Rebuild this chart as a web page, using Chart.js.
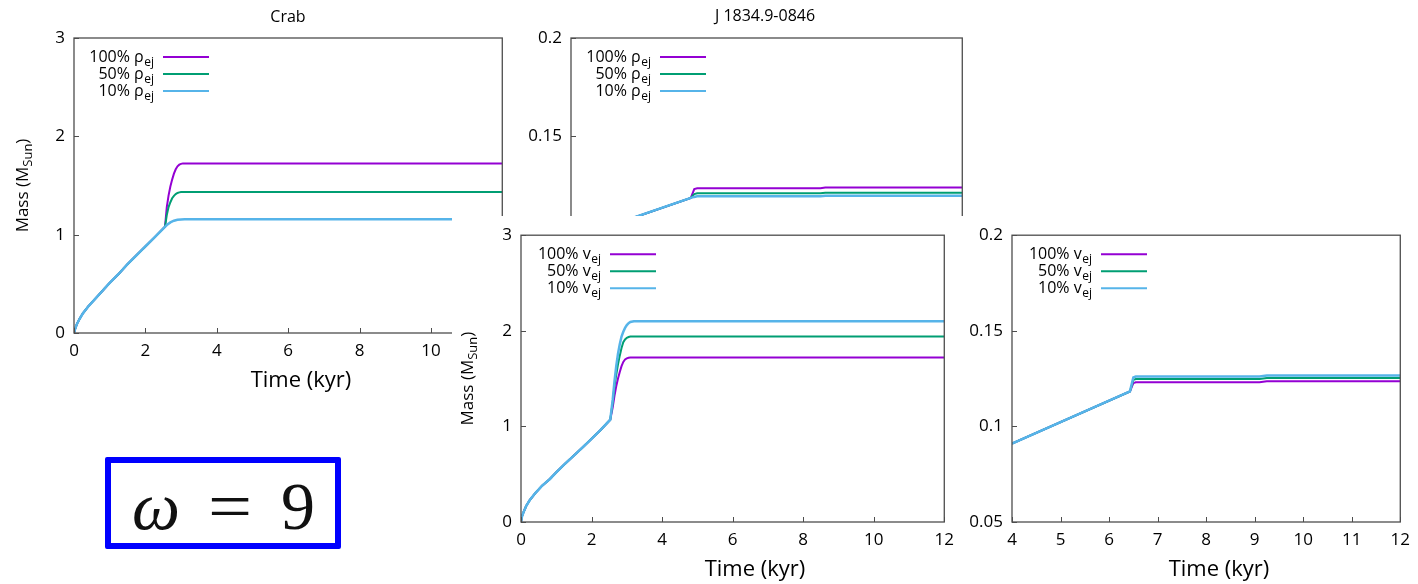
<!DOCTYPE html>
<html>
<head>
<meta charset="utf-8">
<script src="https://cdn.jsdelivr.net/npm/chart.js@4.4.1/dist/chart.umd.min.js"></script>
<style>
  html, body { margin: 0; padding: 0; background: #fff; }
  body { width: 1418px; height: 584px; position: relative; overflow: hidden; font-family: 'Open Sans', sans-serif; }
  .panel { position: absolute; }
  .panel canvas { display: block; }
  #p1 { left: 0; top: 0; z-index: 1; }
  #p2 { left: 505px; top: 0; z-index: 2; }
  #p3 { left: 452px; top: 216px; z-index: 3; background: #fff; }
  #p4 { left: 962px; top: 216px; z-index: 4; background: #fff; }
  #omega { position: absolute; left: 105px; top: 457px; width: 236px; height: 92px; box-sizing: border-box;
           border: 6px solid #0000ff; border-radius: 2px; background: #fff; z-index: 5; }
  #omega span { position: absolute; font-family: 'Liberation Serif', 'DejaVu Serif', serif; font-size: 68px;
                line-height: 68px; color: #111; top: 9px; }
</style>
</head>
<body>
<div class="panel" id="p1"><canvas id="c1" width="520" height="400"></canvas></div>
<div class="panel" id="p2"><canvas id="c2" width="475" height="400"></canvas></div>
<div class="panel" id="p3"><canvas id="c3" width="510" height="368"></canvas></div>
<div class="panel" id="p4"><canvas id="c4" width="456" height="368"></canvas></div>
<div id="omega"><span style="left:21px;font-style:italic">ω</span><span style="left:97px;transform:scaleX(1.15);transform-origin:left">=</span><span style="left:170px">9</span></div>
<script>
// legend text and colours (gnuplot default line types 1..3)
const legendPct = ['100%', '50%', '10%'];
const lineColors = ['#9400d3', '#009e73', '#56b4e9'];

// tick values
const ticksT0 = [0, 2, 4, 6, 8, 10, 12];
const ticksT4 = [4, 5, 6, 7, 8, 9, 10, 11, 12];
const ticksM3 = [0, 1, 2, 3];
const ticksM02 = [0.05, 0.1, 0.15, 0.2];

// Crab, ejecta density varied (top left)
const crabRhoEarlyT = [0, 0.03, 0.08, 0.15, 0.25, 0.4, 0.6, 0.8, 1.0, 1.25, 1.5, 1.75, 2.0, 2.25, 2.55];
const crabRhoEarlyM = [0, 0.04, 0.09, 0.14, 0.2, 0.27, 0.35, 0.43, 0.51, 0.6, 0.7, 0.79, 0.88, 0.97, 1.08];
const crabRho100T = [2.6, 2.65, 2.7, 2.75, 2.8, 2.85, 2.9, 2.95, 3.0, 3.05, 12];
const crabRho100M = [1.28, 1.4, 1.49, 1.56, 1.62, 1.665, 1.695, 1.712, 1.72, 1.725, 1.725];
const crabRho50T = [2.6, 2.65, 2.7, 2.75, 2.8, 2.85, 2.9, 2.95, 3.0, 3.05, 12];
const crabRho50M = [1.2, 1.28, 1.33, 1.37, 1.395, 1.413, 1.424, 1.43, 1.434, 1.435, 1.435];
const crabRho10T = [2.6, 2.7, 2.8, 2.9, 3.0, 3.1, 12];
const crabRho10M = [1.098, 1.125, 1.142, 1.151, 1.155, 1.156, 1.156];

// J 1834.9-0846, ejecta density varied (top middle)
const jRhoEarlyT = [4, 6.45];
const jRhoEarlyM = [0.0977, 0.1187];
const jRho100T = [6.52, 6.58, 9.1, 9.2, 12];
const jRho100M = [0.1232, 0.1236, 0.1236, 0.1240, 0.1240];
const jRho50T = [6.52, 6.58, 9.1, 9.2, 12];
const jRho50M = [0.1206, 0.1210, 0.1210, 0.1213, 0.1213];
const jRho10T = [6.52, 6.58, 9.1, 9.2, 12];
const jRho10M = [0.1192, 0.1195, 0.1195, 0.1198, 0.1198];

// Crab, ejecta velocity varied (bottom middle)
const crabVelEarlyT = [0, 0.03, 0.08, 0.15, 0.25, 0.4, 0.6, 0.82, 1.0, 1.25, 1.5, 1.76, 2.0, 2.25, 2.53];
const crabVelEarlyM = [0, 0.06, 0.11, 0.17, 0.23, 0.3, 0.38, 0.45, 0.52, 0.61, 0.695, 0.785, 0.87, 0.96, 1.07];
const crabVel100T = [2.6, 2.65, 2.7, 2.75, 2.8, 2.85, 2.9, 2.95, 3.0, 3.05, 3.1, 12];
const crabVel100M = [1.2, 1.32, 1.42, 1.5, 1.57, 1.63, 1.675, 1.7, 1.712, 1.718, 1.72, 1.72];
const crabVel50T = [2.6, 2.65, 2.7, 2.75, 2.8, 2.85, 2.9, 2.95, 3.0, 3.05, 3.1, 12];
const crabVel50M = [1.25, 1.42, 1.54, 1.65, 1.74, 1.82, 1.88, 1.91, 1.927, 1.935, 1.94, 1.94];
const crabVel10T = [2.6, 2.65, 2.7, 2.75, 2.8, 2.85, 2.9, 2.95, 3.0, 3.05, 3.1, 3.2, 12];
const crabVel10M = [1.28, 1.47, 1.63, 1.76, 1.86, 1.94, 1.99, 2.03, 2.06, 2.08, 2.092, 2.1, 2.1];

// J 1834.9-0846, ejecta velocity varied (bottom right)
const jVelEarlyT = [4, 6.43];
const jVelEarlyM = [0.091, 0.1183];
const jVel100T = [6.5, 6.55, 9.1, 9.25, 12];
const jVel100M = [0.1226, 0.1231, 0.1231, 0.1236, 0.1236];
const jVel50T = [6.5, 6.55, 9.1, 9.25, 12];
const jVel50M = [0.1243, 0.1248, 0.1248, 0.1253, 0.1253];
const jVel10T = [6.5, 6.55, 9.1, 9.25, 12];
const jVel10M = [0.1256, 0.1261, 0.1261, 0.1266, 0.1266];

function pts(t, m) {
  return t.map((x, i) => ({ x: x, y: m[i] }));
}
function series(earlyT, earlyM, lateT, lateM) {
  return pts(earlyT.concat(lateT), earlyM.concat(lateM));
}

Chart.defaults.font.family = "'Open Sans', sans-serif";
Chart.defaults.color = '#000';

// frame, inward ticks, legend and titles drawn the gnuplot way
const gnuPanel = {
  id: 'gnuPanel',
  afterDatasetsDraw(chart, args, o) {
    const ctx = chart.ctx;
    const a = chart.chartArea;
    const sx = chart.scales.x, sy = chart.scales.y;
    ctx.save();

    ctx.strokeStyle = '#4d4d4d';
    ctx.lineWidth = 1.3;
    ctx.strokeRect(a.left, a.top, a.right - a.left, a.bottom - a.top);
    ctx.lineWidth = 1;
    ctx.beginPath();
    sx.ticks.forEach(t => {
      const px = Math.round(sx.getPixelForValue(t.value)) + 0.5;
      ctx.moveTo(px, a.bottom);
      ctx.lineTo(px, a.bottom - 5);
    });
    sy.ticks.forEach(t => {
      const py = Math.round(sy.getPixelForValue(t.value)) + 0.5;
      ctx.moveTo(a.left, py);
      ctx.lineTo(a.left + 5, py);
    });
    ctx.stroke();

    // legend: text right aligned, then a line sample
    const rows = [19, 36, 53];
    chart.data.datasets.forEach((ds, i) => {
      const y = a.top + rows[i];
      const xr = a.left + 80;
      ctx.fillStyle = '#000';
      ctx.textBaseline = 'alphabetic';
      ctx.font = "12px 'Open Sans'";
      const sw = ctx.measureText('ej').width;
      ctx.textAlign = 'left';
      ctx.fillText('ej', xr - sw, y + 9);
      ctx.font = "16px 'Open Sans'";
      ctx.textAlign = 'right';
      ctx.fillText(ds.label, xr - sw - 0.5, y + 5);
      ctx.strokeStyle = ds.borderColor;
      ctx.lineWidth = 2;
      ctx.beginPath();
      ctx.moveTo(a.left + 89, y);
      ctx.lineTo(a.left + 135, y);
      ctx.stroke();
    });

    ctx.fillStyle = '#000';
    if (o.title) {
      ctx.font = "16px 'Open Sans'";
      ctx.textAlign = 'center';
      ctx.textBaseline = 'middle';
      ctx.fillText(o.title, o.titleX, o.titleY);
    }
    if (o.xTitleX !== undefined) {
      ctx.font = "22px 'Open Sans'";
      ctx.textAlign = 'center';
      ctx.textBaseline = 'middle';
      ctx.fillText('Time (kyr)', o.xTitleX, a.bottom + 47.5);
    }
    if (o.yTitleX !== undefined) {
      ctx.translate(o.yTitleX, (a.top + a.bottom) / 2);
      ctx.rotate(-Math.PI / 2);
      ctx.textAlign = 'left';
      ctx.textBaseline = 'alphabetic';
      ctx.font = "17px 'Open Sans'";
      const w1 = ctx.measureText('Mass (M').width;
      const w3 = ctx.measureText(')').width;
      ctx.font = "13px 'Open Sans'";
      const w2 = ctx.measureText('Sun').width;
      let x0 = -(w1 + w2 + w3) / 2;
      ctx.font = "17px 'Open Sans'";
      ctx.fillText('Mass (M', x0, 6);
      ctx.font = "13px 'Open Sans'";
      ctx.fillText('Sun', x0 + w1, 10);
      ctx.font = "17px 'Open Sans'";
      ctx.fillText(')', x0 + w1 + w2, 6);
    }
    ctx.restore();
  }
};

function makePanel(id, o) {
  return new Chart(document.getElementById(id), {
    type: 'line',
    data: {
      datasets: o.series.map((s, i) => ({
        label: legendPct[i] + ' ' + o.sym,
        data: s,
        borderColor: lineColors[i],
        borderWidth: i === 2 ? 2.5 : 2,
        pointRadius: 0,
        tension: 0,
        fill: false,
        order: 3 - i
      }))
    },
    options: {
      responsive: false,
      animation: false,
      events: [],
      layout: { padding: o.pad },
      scales: {
        x: {
          type: 'linear', min: o.xMin, max: o.xMax,
          grid: { display: false, drawTicks: false },
          border: { display: false },
          afterBuildTicks: s => { s.ticks = o.xTicks.map(v => ({ value: v })); },
          afterFit: s => { s.height = o.xHeight; },
          ticks: { autoSkip: false, maxRotation: 0, padding: 8, color: '#000', font: { size: 17 }, callback: v => String(v) }
        },
        y: {
          type: 'linear', min: o.yMin, max: o.yMax,
          grid: { display: false, drawTicks: false },
          border: { display: false },
          afterBuildTicks: s => { s.ticks = o.yTicks.map(v => ({ value: v })); },
          afterFit: s => { s.width = o.yWidth; },
          ticks: { autoSkip: false, padding: 9, color: '#000', font: { size: 17 }, callback: v => String(v) }
        }
      },
      plugins: { legend: { display: false }, tooltip: { enabled: false }, gnuPanel: o.gnu }
    },
    plugins: [gnuPanel]
  });
}

makePanel('c1', {
  sym: 'ρ',
  series: [
    series(crabRhoEarlyT, crabRhoEarlyM, crabRho100T, crabRho100M),
    series(crabRhoEarlyT, crabRhoEarlyM, crabRho50T, crabRho50M),
    series(crabRhoEarlyT, crabRhoEarlyM, crabRho10T, crabRho10M)
  ],
  xMin: 0, xMax: 12, xTicks: ticksT0, yMin: 0, yMax: 3, yTicks: ticksM3,
  yWidth: 74, xHeight: 67, pad: { top: 38, right: 17, left: 0, bottom: 0 },
  gnu: { title: 'Crab', titleX: 288, titleY: 17, xTitleX: 301, yTitleX: 22 }
});

makePanel('c2', {
  sym: 'ρ',
  series: [
    series(jRhoEarlyT, jRhoEarlyM, jRho100T, jRho100M),
    series(jRhoEarlyT, jRhoEarlyM, jRho50T, jRho50M),
    series(jRhoEarlyT, jRhoEarlyM, jRho10T, jRho10M)
  ],
  xMin: 4, xMax: 12, xTicks: ticksT4, yMin: 0.05, yMax: 0.2, yTicks: ticksM02,
  yWidth: 66, xHeight: 67, pad: { top: 38, right: 11, left: 0, bottom: 0 },
  gnu: { title: 'J 1834.9-0846', titleX: 260, titleY: 16 }
});

makePanel('c3', {
  sym: 'v',
  series: [
    series(crabVelEarlyT, crabVelEarlyM, crabVel100T, crabVel100M),
    series(crabVelEarlyT, crabVelEarlyM, crabVel50T, crabVel50M),
    series(crabVelEarlyT, crabVelEarlyM, crabVel10T, crabVel10M)
  ],
  xMin: 0, xMax: 12, xTicks: ticksT0, yMin: 0, yMax: 3, yTicks: ticksM3,
  yWidth: 69, xHeight: 62, pad: { top: 13, right: 17, left: 0, bottom: 0 },
  gnu: { xTitleX: 303, yTitleX: 15 }
});

makePanel('c4', {
  sym: 'v',
  series: [
    series(jVelEarlyT, jVelEarlyM, jVel100T, jVel100M),
    series(jVelEarlyT, jVelEarlyM, jVel50T, jVel50M),
    series(jVelEarlyT, jVelEarlyM, jVel10T, jVel10M)
  ],
  xMin: 4, xMax: 12, xTicks: ticksT4, yMin: 0.05, yMax: 0.2, yTicks: ticksM02,
  yWidth: 50, xHeight: 62, pad: { top: 13, right: 12, left: 0, bottom: 0 },
  gnu: { xTitleX: 257 }
});
</script>
</body>
</html>
